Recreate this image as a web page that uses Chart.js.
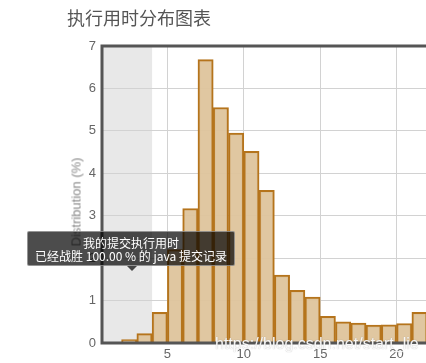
<!DOCTYPE html>
<html>
<head>
<meta charset="utf-8">
<script src="https://cdn.jsdelivr.net/npm/chart.js@4.4.1/dist/chart.umd.min.js"></script>
<style>
  html, body { margin:0; padding:0; background:#fff; width:426px; height:363px; overflow:hidden; }
  #wrap { position:relative; width:426px; height:363px; overflow:hidden; }
  #c { position:absolute; left:0; top:0; }
  #title { position:absolute; left:67px; top:8px; font:18px/18px "Noto Sans CJK SC", sans-serif; color:#555; white-space:nowrap; }
  #ytitle { position:absolute; left:76px; top:202px; transform:translate(-50%,-50%) rotate(-90deg); font:13px/13px "Liberation Sans", Arial, sans-serif; color:#888; white-space:nowrap; }
  #tip { position:absolute; left:27px; top:231px; width:206px; background:rgba(0,0,0,0.7); border:1px solid rgba(210,210,210,0.55); border-radius:2px; color:#fff; font:12px/13px "Noto Sans CJK SC", sans-serif; text-align:center; box-sizing:content-box; padding-top:4px; height:29px; }
  #caret { position:absolute; left:127px; top:266px; width:0; height:0; border-left:5px solid transparent; border-right:5px solid transparent; border-top:5px solid rgba(0,0,0,0.7); }
  #wm { position:absolute; left:215px; top:336px; font:16px/16px "Liberation Sans", Arial, sans-serif; color:rgba(255,255,255,0.92); text-shadow:0 0 1px rgba(120,120,120,0.6); white-space:nowrap; }
</style>
</head>
<body>
<div id="wrap">
  <canvas id="c" width="483" height="363"></canvas>
  <div id="title">执行用时分布图表</div>
  <div id="ytitle">Distribution (%)</div>
  <div id="tip">我的提交执行用时<br>已经战胜 100.00 % 的 java 提交记录</div>
  <div id="caret"></div>
  <div id="wm">https://blog.csdn.net/start_lie</div>
</div>
<script>
// Execution time bins (ms): each bar covers [start, start+1)
const binStarts = [2, 3, 4, 5, 6, 7, 8, 9, 10, 11, 12, 13, 14, 15, 16, 17, 18, 19, 20, 21, 22];
const distribution = [0.08, 0.22, 0.72, 2.2, 3.17, 6.68, 5.55, 4.95, 4.52, 3.6, 1.6, 1.24, 1.08, 0.63, 0.5, 0.47, 0.42, 0.43, 0.46, 0.72, 1.37];
const xTickValues = [5, 10, 15, 20];
const yTickValues = [0, 1, 2, 3, 4, 5, 6, 7];
const bandEnd = 4;

const points = binStarts.map((s, i) => ({ x: s + 0.5, y: distribution[i] }));

const framePlugin = {
  id: 'frame',
  beforeDraw(chart) {
    const { ctx, chartArea: a, scales: { x } } = chart;
    const xr = x.getPixelForValue(bandEnd);
    ctx.save();
    ctx.fillStyle = '#e8e8e8';
    ctx.fillRect(a.left, a.top, xr - a.left, a.bottom - a.top);
    ctx.restore();
  },
  afterDatasetsDraw(chart) {
    const { ctx, chartArea: a } = chart;
    ctx.save();
    ctx.strokeStyle = '#555';
    ctx.lineWidth = 3;
    ctx.strokeRect(a.left, a.top, a.right - a.left, a.bottom - a.top);
    ctx.restore();
  }
};

new Chart(document.getElementById('c'), {
  type: 'bar',
  data: {
    datasets: [{
      data: points,
      backgroundColor: 'rgba(222,196,156,0.95)',
      borderColor: '#b5741c',
      borderWidth: 2,
      barPercentage: 1,
      categoryPercentage: 1
    }]
  },
  options: {
    responsive: false,
    animation: false,
    layout: { padding: { left: 0, top: 46, right: 10, bottom: 0 } },
    plugins: { legend: { display: false }, tooltip: { enabled: false } },
    scales: {
      x: {
        type: 'linear',
        min: 0.72,
        max: 25,
        offset: false,
        border: { display: false },
        grid: { color: '#d2d2d2', drawTicks: false, lineWidth: 1, offset: false },
        afterBuildTicks(s) { s.ticks = xTickValues.map(v => ({ value: v })); },
        ticks: { color: '#666', font: { family: 'Liberation Sans', size: 13 }, padding: 4 },
        afterFit(s) { s.height = 20; }
      },
      y: {
        min: 0,
        max: 7,
        border: { display: false },
        grid: { color: '#d2d2d2', drawTicks: false, lineWidth: 1, offset: false },
        afterBuildTicks(s) { s.ticks = yTickValues.map(v => ({ value: v })); },
        ticks: { color: '#666', font: { family: 'Liberation Sans', size: 13 }, padding: 6 },
        afterFit(s) { s.width = 102; }
      }
    }
  },
  plugins: [framePlugin]
});
</script>
</body>
</html>
